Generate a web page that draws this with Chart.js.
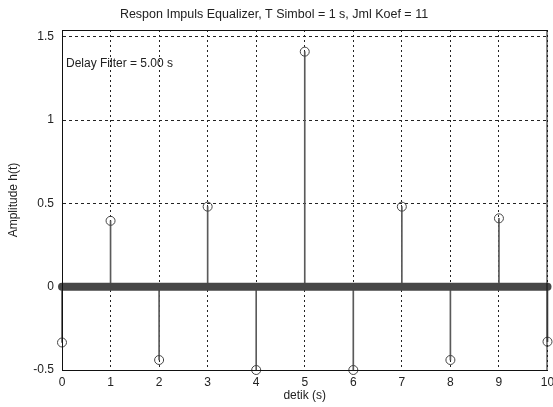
<!DOCTYPE html>
<html><head><meta charset="utf-8">
<script src="https://cdn.jsdelivr.net/npm/chart.js@4/dist/chart.umd.min.js"></script>
<style>html,body{margin:0;padding:0;background:#fff}#wrap{width:553px;height:407px}</style>
</head><body><div id="wrap"><canvas id="c" width="553" height="407"></canvas></div>
<script>
const times = [0, 1, 2, 3, 4, 5, 6, 7, 8, 9, 10];
const coefficients = [-0.335, 0.395, -0.44, 0.48, -0.5, 1.41, -0.5, 0.48, -0.44, 0.41, -0.33];
const yTicks = [-0.5, 0, 0.5, 1, 1.5];
const xTicks = [0, 1, 2, 3, 4, 5, 6, 7, 8, 9, 10];
const titleText = 'Respon Impuls Equalizer, T Simbol = 1 s, Jml Koef = 11';
const noteText = 'Delay Filter = 5.00 s';
const xLabel = 'detik (s)';
const yLabel = 'Amplitude h(t)';

const FONT = "'Liberation Sans', Arial, sans-serif";
const pts = times.map((t, i) => ({x: t, y: coefficients[i]}));

const boxPlugin = {
  id: 'box',
  afterDraw(chart) {
    const {ctx, chartArea: a, scales} = chart;
    ctx.save();
    ctx.strokeStyle = '#111';
    ctx.lineWidth = 1;
    ctx.strokeRect(a.left + 0.5, a.top + 0.5, a.right - a.left - 1, a.bottom - a.top);
    ctx.fillStyle = '#222';
    ctx.font = '12px ' + FONT;
    ctx.textBaseline = 'middle';
    ctx.fillText(noteText, scales.x.getPixelForValue(0) + 4, scales.y.getPixelForValue(1.34));
    ctx.restore();
  }
};

new Chart(document.getElementById('c'), {
  type: 'bar',
  data: {
    datasets: [
      {
        type: 'bar',
        data: pts,
        backgroundColor: '#5a5a5a',
        borderWidth: 0,
        barThickness: 1,
        clip: false,
        order: 3
      },
      {
        type: 'line',
        data: [{x: times[0], y: 0}, {x: times[times.length - 1], y: 0}],
        borderColor: '#474747',
        borderWidth: 8,
        borderCapStyle: 'round',
        pointRadius: 0,
        clip: false,
        order: 2
      },
      {
        type: 'scatter',
        data: pts,
        pointStyle: 'circle',
        pointRadius: 4.5,
        pointBorderWidth: 1,
        pointBorderColor: '#444',
        pointBackgroundColor: 'rgba(0,0,0,0)',
        showLine: false,
        clip: false,
        order: 1
      }
    ]
  },
  options: {
    responsive: false,
    animation: false,
    layout: {padding: {left: 0, right: 5, top: 0, bottom: 0}},
    plugins: {
      legend: {display: false},
      tooltip: {enabled: false},
      title: {
        display: true,
        text: titleText,
        color: '#222',
        font: {family: FONT, size: 12.5, weight: 'normal'},
        padding: {top: 7, bottom: 8}
      }
    },
    scales: {
      x: {
        type: 'linear',
        min: 0, max: 10,
        offset: false,
        afterBuildTicks(s) { s.ticks = xTicks.map(v => ({value: v})); },
        afterFit(s) { s.height = 37; s.paddingLeft = 0; s.paddingRight = 0; },
        grid: {color: '#222', lineWidth: 1, drawTicks: false, offset: false},
        border: {display: true, color: '#111', width: 1, dash: [2, 3]},
        ticks: {color: '#222', font: {family: FONT, size: 12}, padding: 5, maxRotation: 0, callback: v => String(v)},
        title: {display: true, text: xLabel, color: '#222', font: {family: FONT, size: 12}, padding: {top: 0, bottom: 4}}
      },
      y: {
        type: 'linear',
        min: -0.5, max: 1.54,
        afterBuildTicks(s) { s.ticks = yTicks.map(v => ({value: v})); },
        afterFit(s) { s.width = 62; s.paddingTop = 0; s.paddingBottom = 0; },
        grid: {color: '#222', lineWidth: 1, drawTicks: false},
        border: {display: true, color: '#111', width: 1, dash: [3, 3]},
        ticks: {color: '#222', font: {family: FONT, size: 12}, padding: 8, callback: v => String(v)},
        title: {display: true, text: yLabel, color: '#222', font: {family: FONT, size: 12}, padding: {top: 6, bottom: 0}}
      }
    }
  },
  plugins: [boxPlugin]
});
</script></body></html>
